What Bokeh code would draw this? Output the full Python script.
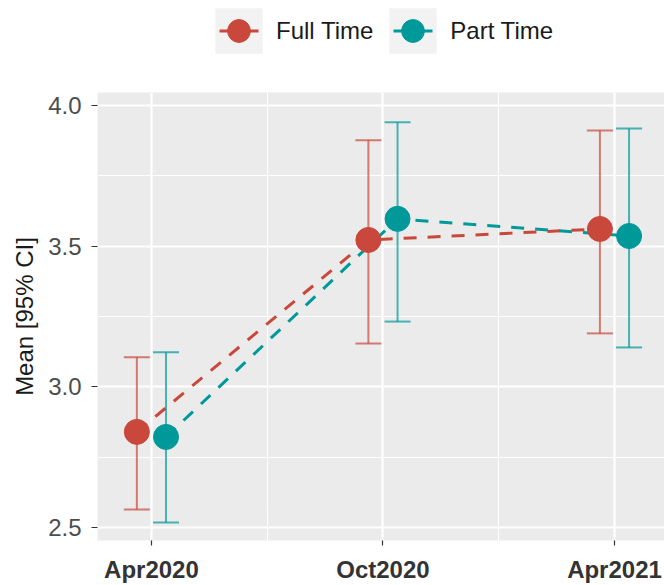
import numpy as np
from bokeh.plotting import figure
from bokeh.layouts import column
from bokeh.models import (Range1d, FixedTicker, Whisker, TeeHead, ColumnDataSource,
                          Legend, LegendItem, PrintfTickFormatter)
from bokeh.embed import file_html
from bokeh.resources import INLINE

# ---- data ----
categories = ["Apr2020", "Oct2020", "Apr2021"]
groups = ["Full Time", "Part Time"]
full_mean = [2.840, 3.522, 3.561]
full_lower = [2.564, 3.154, 3.190]
full_upper = [3.105, 3.876, 3.911]
part_mean = [2.822, 3.597, 3.536]
part_lower = [2.518, 3.232, 3.140]
part_upper = [3.123, 3.940, 3.918]
y_ticks = [2.5, 3.0, 3.5, 4.0]
y_minor = [2.75, 3.25, 3.75]

RED = "#C9483B"
TEAL = "#00999A"
FONT = "Liberation Sans"
DODGE = 0.063

pos = [i + 1 for i in range(len(categories))]
x_full = [p_ - DODGE for p_ in pos]
x_part = [p_ + DODGE for p_ in pos]

# ---------------- main plot ----------------
p = figure(width=664, height=493,
           x_range=Range1d(0.767, 3.216), y_range=Range1d(2.454, 4.046),
           output_backend="svg", toolbar_location=None,
           min_border_left=97, min_border_right=0, min_border_top=0, min_border_bottom=43)
p.background_fill_color = "#EBEBEB"
p.border_fill_color = "white"
p.outline_line_color = None

p.xaxis.ticker = FixedTicker(ticks=pos, minor_ticks=[1.5, 2.5])
p.xaxis.major_label_overrides = {pp: c for pp, c in zip(pos, categories)}
p.yaxis.ticker = FixedTicker(ticks=y_ticks, minor_ticks=y_minor)
p.yaxis.formatter = PrintfTickFormatter(format="%.1f")
for ax in (p.xaxis[0], p.yaxis[0]):
    ax.axis_line_color = None
    ax.major_tick_line_color = "#333333"
    ax.major_tick_line_width = 1.2
    ax.major_tick_in = 0
    ax.major_tick_out = 5
    ax.minor_tick_in = 0
    ax.minor_tick_out = 0
    ax.major_label_text_font = FONT
    ax.major_label_text_font_size = "24px"
p.xaxis.major_label_text_font_style = "bold"
p.xaxis.major_label_text_color = "#333333"
p.xaxis.major_label_standoff = 10
p.yaxis.major_tick_out = 6
p.yaxis.major_label_text_color = "#4D4D4D"
p.yaxis.major_label_standoff = 10
p.yaxis.axis_label = "Mean [95% CI]"
p.yaxis.axis_label_text_font = FONT
p.yaxis.axis_label_text_font_size = "24px"
p.yaxis.axis_label_text_font_style = "normal"
p.yaxis.axis_label_text_color = "#1A1A1A"
p.yaxis.axis_label_standoff = 7

for g in (p.xgrid[0], p.ygrid[0]):
    g.grid_line_color = "white"
    g.grid_line_width = 2.2
    g.minor_grid_line_color = "white"
    g.minor_grid_line_width = 1.1

for xs, lo, up, col in ((x_full, full_lower, full_upper, RED),
                        (x_part, part_lower, part_upper, TEAL)):
    src = ColumnDataSource(dict(x=xs, lower=lo, upper=up))
    w = Whisker(source=src, base="x", lower="lower", upper="upper",
                line_color=col, line_alpha=0.7, line_width=2,
                upper_head=TeeHead(size=26, line_color=col, line_alpha=0.7, line_width=2),
                lower_head=TeeHead(size=26, line_color=col, line_alpha=0.7, line_width=2))
    p.add_layout(w)

p.line(x_full, full_mean, line_color=RED, line_width=3, line_dash="13 11")
p.line(x_part, part_mean, line_color=TEAL, line_width=3, line_dash="13 11")
p.scatter(x_full, full_mean, size=25, fill_color=RED, line_color=RED)
p.scatter(x_part, part_mean, size=25, fill_color=TEAL, line_color=TEAL)

# ---------------- legend strip ----------------
lg = figure(width=664, height=92, x_range=Range1d(0, 1), y_range=Range1d(0, 1),
            output_backend="svg", toolbar_location=None,
            x_axis_location=None, y_axis_location=None, min_border=0)
lg.grid.visible = False
lg.outline_line_color = None
lg.background_fill_color = "white"
lg.border_fill_color = "white"

nan = np.array([np.nan])
items = []
for grp, col in ((groups[0], RED), (groups[1], TEAL)):
    bg = lg.quad(left=nan, right=nan, top=nan, bottom=nan, fill_color="#F2F2F2", line_color=None)
    kl = lg.line(x=nan, y=nan, line_color=col, line_width=3, line_dash="0 10 39 10")
    pt = lg.scatter(x=nan, y=nan, size=25, fill_color=col, line_color=col)
    items.append(LegendItem(label=grp, renderers=[bg, kl, pt]))

legend = Legend(items=items, orientation="horizontal", location=(112, 33),
                glyph_width=59, glyph_height=57, label_standoff=8, spacing=10,
                padding=0, margin=0, label_text_font=FONT, label_text_font_size="24px",
                label_text_color="#1A1A1A", background_fill_alpha=0, border_line_alpha=0)
lg.add_layout(legend)

layout = column(lg, p, spacing=0)
open("out.html", "w").write(file_html(layout, INLINE))
